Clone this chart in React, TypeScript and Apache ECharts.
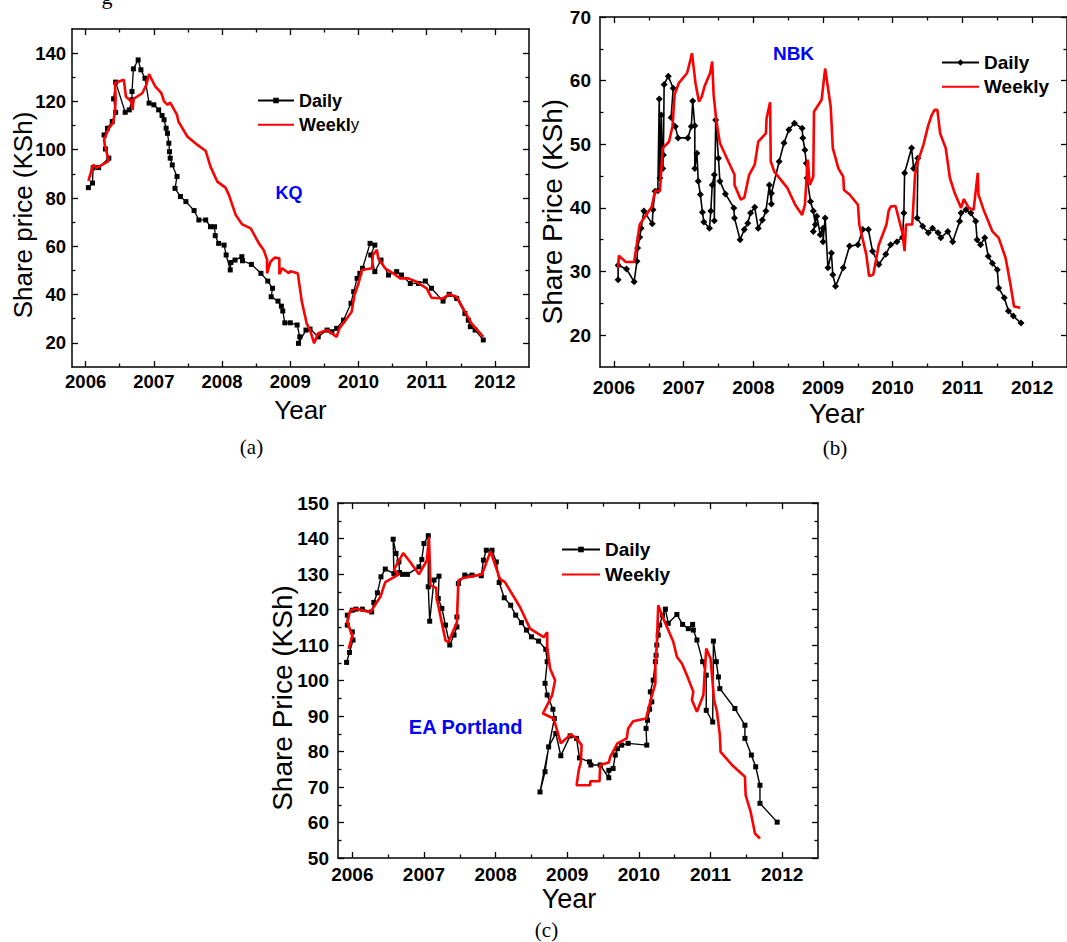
import React, { useEffect, useRef } from 'react';
import * as echarts from 'echarts';

const SANS = '"Liberation Sans", Arial, Helvetica, sans-serif';
const SERIF = '"Liberation Serif", "Times New Roman", serif';

// ---------- tick labels ----------
const yearTicks = [2006, 2007, 2008, 2009, 2010, 2011, 2012];
const yearMinorTicks = [2006.5, 2007.5, 2008.5, 2009.5, 2010.5, 2011.5];
const yTicksA = [20, 40, 60, 80, 100, 120, 140];
const yMinorA = [30, 50, 70, 90, 110, 130];
const yTicksB = [20, 30, 40, 50, 60, 70];
const yMinorB = [25, 35, 45, 55, 65];
const yTicksC = [50, 60, 70, 80, 90, 100, 110, 120, 130, 140, 150];
const yMinorC = [55, 65, 75, 85, 95, 105, 115, 125, 135, 145];

// ---------- (a) KQ ----------
const dailyA: number[][] = [
  [2006.04, 84.3], [2006.10, 86.2], [2006.11, 92.5], [2006.19, 92.6], [2006.34, 96.5], [2006.29, 100.3],
  [2006.27, 106.1], [2006.32, 108.9], [2006.39, 111.7], [2006.44, 115.5], [2006.41, 121.1], [2006.44, 128.0],
  [2006.58, 115.5], [2006.64, 116.5], [2006.68, 120.7], [2006.68, 124.1], [2006.70, 133.5], [2006.77, 137.2],
  [2006.81, 133.1], [2006.87, 129.6], [2006.93, 119.3], [2007.00, 118.6], [2007.07, 116.5], [2007.12, 114.2],
  [2007.15, 112.4], [2007.18, 108.9], [2007.20, 106.8], [2007.22, 102.7], [2007.23, 99.2], [2007.24, 96.5],
  [2007.27, 93.7], [2007.34, 88.9], [2007.31, 84.0], [2007.39, 80.6], [2007.47, 78.5], [2007.59, 74.8],
  [2007.66, 70.9], [2007.76, 70.9], [2007.83, 68.1], [2007.89, 68.1], [2007.90, 64.4], [2007.95, 61.2],
  [2008.03, 60.5], [2008.06, 56.4], [2008.12, 50.2], [2008.13, 53.3], [2008.19, 54.3], [2008.29, 55.7],
  [2008.30, 54.0], [2008.43, 52.5], [2008.57, 48.8], [2008.67, 45.6], [2008.74, 42.6], [2008.72, 39.1],
  [2008.82, 37.3], [2008.87, 35.2], [2008.89, 33.2], [2008.92, 28.3], [2009.00, 28.3], [2009.10, 27.4],
  [2009.14, 22.5], [2009.12, 19.8], [2009.23, 25.3], [2009.29, 25.7], [2009.41, 22.5], [2009.54, 25.3],
  [2009.61, 24.6], [2009.68, 26.0], [2009.78, 29.4], [2009.89, 36.4], [2009.93, 41.2], [2009.98, 46.7],
  [2010.02, 48.8], [2010.06, 50.9], [2010.17, 61.2], [2010.24, 60.5], [2010.18, 56.4], [2010.24, 49.5],
  [2010.33, 54.3], [2010.44, 48.1], [2010.56, 49.5], [2010.63, 48.1], [2010.76, 44.6], [2010.88, 44.6],
  [2010.98, 45.6], [2011.07, 42.6], [2011.24, 37.3], [2011.33, 40.1], [2011.44, 38.4], [2011.56, 32.2],
  [2011.61, 29.4], [2011.64, 26.7], [2011.71, 25.3], [2011.83, 21.2],
];
const weeklyA: number[][] = [
  [2006.04, 87.1], [2006.11, 93.7], [2006.17, 92.6], [2006.34, 95.4], [2006.28, 102.0], [2006.27, 104.1],
  [2006.34, 108.9], [2006.40, 111.0], [2006.43, 115.5], [2006.44, 121.3], [2006.43, 127.6], [2006.56, 129.0],
  [2006.59, 122.0], [2006.67, 120.0], [2006.69, 116.5], [2006.70, 121.0], [2006.83, 123.4], [2006.89, 126.9],
  [2006.93, 131.3], [2007.02, 126.2], [2007.11, 123.4], [2007.15, 120.0], [2007.20, 118.6], [2007.24, 119.5],
  [2007.34, 114.4], [2007.36, 111.7], [2007.49, 105.5], [2007.64, 102.0], [2007.76, 99.5], [2007.83, 93.0],
  [2007.93, 86.8], [2008.05, 84.3], [2008.10, 81.3], [2008.20, 73.0], [2008.29, 69.2], [2008.42, 67.4],
  [2008.54, 61.2], [2008.61, 58.5], [2008.66, 54.5], [2008.66, 48.8], [2008.71, 53.6], [2008.77, 55.3],
  [2008.84, 55.0], [2008.84, 48.4], [2008.88, 50.9], [2008.98, 48.8], [2009.00, 49.7], [2009.11, 48.8],
  [2009.17, 37.0], [2009.24, 28.1], [2009.29, 25.3], [2009.35, 19.8], [2009.41, 24.0], [2009.54, 25.3],
  [2009.68, 22.5], [2009.72, 26.0], [2009.81, 29.4], [2009.90, 32.9], [2009.94, 39.8], [2010.00, 44.6],
  [2010.05, 50.2], [2010.20, 50.9], [2010.21, 56.4], [2010.27, 58.5], [2010.29, 55.0], [2010.39, 50.9],
  [2010.51, 48.8], [2010.61, 46.7], [2010.73, 46.7], [2010.85, 45.3], [2011.00, 42.6], [2011.07, 38.7],
  [2011.24, 38.4], [2011.33, 40.1], [2011.44, 39.1], [2011.56, 32.9], [2011.66, 28.0], [2011.83, 22.5],
];

// ---------- (b) NBK ----------
const dailyB: number[][] = [
  [2006.06, 28.7], [2006.06, 31.0], [2006.18, 30.4], [2006.29, 28.4], [2006.33, 31.6], [2006.34, 33.7],
  [2006.37, 35.4], [2006.39, 36.8], [2006.43, 39.5], [2006.55, 37.5], [2006.56, 39.7], [2006.59, 42.6],
  [2006.63, 42.7], [2006.65, 57.1], [2006.66, 44.7], [2006.68, 54.6], [2006.70, 46.2], [2006.71, 48.3],
  [2006.72, 59.4], [2006.78, 60.7], [2006.85, 58.8], [2006.82, 54.2], [2006.88, 52.8], [2006.92, 51.0],
  [2007.06, 51.0], [2007.11, 52.8], [2007.13, 56.8], [2007.16, 52.9], [2007.16, 46.2], [2007.19, 48.6],
  [2007.21, 44.2], [2007.24, 42.1], [2007.27, 39.3], [2007.29, 37.8], [2007.37, 36.8], [2007.39, 39.5],
  [2007.41, 43.6], [2007.44, 45.2], [2007.44, 38.0], [2007.46, 53.8], [2007.50, 47.8], [2007.52, 44.2],
  [2007.60, 42.2], [2007.72, 40.0], [2007.73, 38.4], [2007.81, 35.0], [2007.87, 36.6], [2007.92, 37.6],
  [2007.96, 39.2], [2008.02, 40.1], [2008.07, 36.8], [2008.13, 38.1], [2008.18, 39.5], [2008.23, 43.6],
  [2008.26, 40.6], [2008.26, 42.3], [2008.37, 47.3], [2008.44, 50.2], [2008.51, 52.3], [2008.59, 53.3],
  [2008.70, 52.5], [2008.71, 51.0], [2008.74, 49.1], [2008.76, 47.0], [2008.77, 44.7], [2008.82, 41.0],
  [2008.86, 39.5], [2008.89, 37.4], [2008.86, 36.3], [2008.91, 38.7], [2008.96, 35.8], [2009.00, 36.8],
  [2009.00, 34.7], [2009.03, 38.4], [2009.07, 30.6], [2009.12, 32.9], [2009.14, 29.5], [2009.18, 27.7],
  [2009.29, 30.6], [2009.38, 34.0], [2009.50, 34.2], [2009.57, 36.6], [2009.65, 36.6], [2009.71, 33.2],
  [2009.80, 31.1], [2009.90, 32.7], [2009.97, 34.2], [2010.06, 34.7], [2010.14, 35.4], [2010.16, 39.2],
  [2010.17, 45.5], [2010.27, 49.4], [2010.30, 46.2], [2010.36, 47.8], [2010.35, 38.4], [2010.43, 37.1],
  [2010.51, 36.1], [2010.57, 36.8], [2010.65, 36.1], [2010.69, 35.3], [2010.79, 36.3], [2010.86, 34.7],
  [2010.96, 37.9], [2010.98, 39.2], [2011.05, 39.7], [2011.12, 39.2], [2011.19, 37.9], [2011.21, 35.0],
  [2011.26, 34.2], [2011.32, 35.3], [2011.37, 32.4], [2011.43, 31.3], [2011.50, 30.3], [2011.52, 27.4],
  [2011.60, 25.9], [2011.66, 23.8], [2011.73, 23.0], [2011.84, 21.9],
];
const weeklyB: number[][] = [
  [2006.06, 30.6], [2006.07, 32.5], [2006.17, 31.5], [2006.29, 31.5], [2006.37, 37.4], [2006.50, 39.5],
  [2006.54, 40.1], [2006.59, 42.6], [2006.66, 42.7], [2006.70, 49.4], [2006.79, 50.4], [2006.84, 52.8],
  [2006.87, 57.8], [2006.93, 59.6], [2007.05, 61.2], [2007.12, 64.3], [2007.17, 59.6], [2007.22, 56.7],
  [2007.26, 57.5], [2007.30, 59.1], [2007.38, 61.2], [2007.41, 63.0], [2007.43, 57.8], [2007.47, 53.6],
  [2007.52, 50.2], [2007.62, 47.8], [2007.73, 45.2], [2007.73, 43.6], [2007.82, 41.3], [2007.87, 41.6],
  [2007.94, 45.2], [2008.02, 46.8], [2008.07, 50.4], [2008.18, 51.7], [2008.19, 54.1], [2008.24, 56.6],
  [2008.25, 47.3], [2008.30, 45.7], [2008.49, 43.1], [2008.60, 40.5], [2008.70, 38.9], [2008.74, 40.5],
  [2008.78, 47.6], [2008.81, 43.6], [2008.86, 44.9], [2008.87, 55.1], [2008.98, 57.0], [2009.03, 61.9],
  [2009.11, 55.9], [2009.14, 49.4], [2009.22, 46.2], [2009.29, 44.9], [2009.30, 42.8], [2009.38, 42.1],
  [2009.50, 40.5], [2009.52, 37.4], [2009.62, 32.7], [2009.66, 29.3], [2009.72, 29.5], [2009.80, 34.2],
  [2009.91, 37.4], [2009.94, 39.5], [2009.97, 40.2], [2010.04, 40.3], [2010.14, 36.0], [2010.17, 33.2],
  [2010.19, 37.4], [2010.28, 37.4], [2010.32, 45.2], [2010.36, 47.3], [2010.44, 49.9], [2010.51, 53.0],
  [2010.56, 54.6], [2010.60, 55.4], [2010.64, 55.4], [2010.68, 51.7], [2010.76, 49.4], [2010.82, 44.7],
  [2010.89, 42.3], [2010.98, 40.0], [2011.02, 41.4], [2011.09, 40.0], [2011.16, 39.7], [2011.22, 45.5],
  [2011.23, 42.1], [2011.31, 39.5], [2011.43, 36.3], [2011.52, 35.3], [2011.62, 32.1], [2011.69, 27.9],
  [2011.74, 24.5], [2011.83, 24.3],
];

// ---------- (c) EA Portland ----------
const dailyC: number[][] = [
  [2005.92, 105.1], [2005.96, 107.9], [2006.01, 111.4], [2006.00, 113.7], [2005.93, 115.6], [2005.93, 118.4],
  [2006.00, 119.8], [2006.05, 120.1], [2006.14, 120.1], [2006.27, 119.3], [2006.30, 122.0], [2006.35, 124.7],
  [2006.40, 129.2], [2006.46, 131.4], [2006.58, 130.1], [2006.57, 139.8], [2006.61, 135.8], [2006.65, 133.4],
  [2006.66, 130.4], [2006.70, 129.9], [2006.77, 129.9], [2006.93, 132.0], [2006.97, 134.1], [2007.00, 138.6],
  [2007.06, 140.8], [2007.06, 126.4], [2007.08, 116.7], [2007.14, 128.3], [2007.21, 129.4], [2007.20, 123.1],
  [2007.25, 120.3], [2007.30, 115.6], [2007.36, 110.0], [2007.42, 112.8], [2007.46, 115.1], [2007.46, 117.9],
  [2007.48, 127.3], [2007.57, 129.7], [2007.67, 129.7], [2007.80, 129.5], [2007.83, 133.9], [2007.87, 136.7],
  [2007.95, 136.7], [2008.01, 133.4], [2008.05, 127.6], [2008.12, 123.3], [2008.21, 121.2], [2008.28, 118.4],
  [2008.36, 116.3], [2008.43, 114.2], [2008.50, 112.3], [2008.60, 111.1], [2008.70, 108.8], [2008.72, 105.3],
  [2008.69, 99.2], [2008.72, 95.9], [2008.80, 91.9], [2008.82, 89.3], [2008.62, 68.6], [2008.69, 74.3],
  [2008.74, 81.3], [2008.84, 85.1], [2008.91, 78.8], [2009.04, 84.4], [2009.13, 83.7], [2009.17, 78.2],
  [2009.31, 77.1], [2009.33, 76.2], [2009.46, 76.2], [2009.58, 72.6], [2009.58, 74.7], [2009.64, 75.2],
  [2009.67, 79.0], [2009.70, 80.8], [2009.76, 81.8], [2009.85, 82.3], [2010.11, 81.8], [2010.10, 86.5],
  [2010.12, 88.8], [2010.15, 91.9], [2010.18, 94.0], [2010.16, 96.8], [2010.20, 100.1], [2010.23, 105.3],
  [2010.24, 107.1], [2010.25, 110.0], [2010.27, 112.8], [2010.29, 115.6], [2010.33, 118.4], [2010.37, 120.1],
  [2010.41, 116.1], [2010.53, 118.6], [2010.61, 115.8], [2010.69, 114.6], [2010.75, 115.8], [2010.76, 114.2],
  [2010.81, 111.4], [2010.89, 105.3], [2010.94, 101.5], [2010.94, 91.6], [2011.03, 88.3], [2011.04, 111.1],
  [2011.08, 105.3], [2011.11, 101.0], [2011.13, 97.7], [2011.34, 92.1], [2011.48, 87.4], [2011.48, 83.7],
  [2011.57, 79.0], [2011.63, 75.7], [2011.69, 70.5], [2011.69, 65.4], [2011.93, 60.1],
];
const weeklyC: number[][] = [
  [2005.95, 108.9], [2006.00, 112.7], [2005.93, 116.4], [2005.97, 119.7], [2006.04, 120.2], [2006.25, 119.2],
  [2006.39, 123.5], [2006.46, 127.7], [2006.65, 129.9], [2006.58, 131.2], [2006.71, 135.9], [2006.81, 133.3],
  [2006.93, 129.9], [2007.04, 133.8], [2007.07, 140.4], [2007.09, 126.8], [2007.17, 126.1], [2007.18, 123.0],
  [2007.30, 111.3], [2007.34, 110.8], [2007.46, 116.4], [2007.48, 128.2], [2007.55, 128.9], [2007.81, 129.9],
  [2007.93, 136.4], [2008.06, 128.6], [2008.13, 127.7], [2008.34, 120.7], [2008.48, 114.6], [2008.67, 112.2],
  [2008.72, 113.6], [2008.72, 109.4], [2008.76, 103.4], [2008.83, 100.1], [2008.79, 95.9], [2008.66, 90.7],
  [2008.81, 89.3], [2008.85, 86.5], [2008.91, 82.3], [2009.05, 84.8], [2009.13, 83.7], [2009.20, 81.8],
  [2009.19, 77.1], [2009.16, 74.7], [2009.13, 70.5], [2009.32, 70.5], [2009.32, 71.6], [2009.45, 71.6],
  [2009.46, 76.2], [2009.58, 76.9], [2009.60, 78.5], [2009.70, 82.3], [2009.83, 83.7], [2009.85, 86.5],
  [2009.92, 88.5], [2010.10, 89.3], [2010.17, 94.9], [2010.23, 99.2], [2010.23, 104.3], [2010.25, 110.0],
  [2010.26, 115.6], [2010.27, 121.2], [2010.34, 117.5], [2010.41, 114.2], [2010.48, 110.9], [2010.53, 106.7],
  [2010.60, 104.8], [2010.67, 101.5], [2010.76, 96.8], [2010.74, 94.5], [2010.81, 91.2], [2010.90, 95.9],
  [2010.94, 109.0], [2011.00, 106.2], [2011.05, 94.5], [2011.09, 91.2], [2011.13, 84.6], [2011.14, 79.9],
  [2011.30, 76.2], [2011.48, 72.9], [2011.49, 67.7], [2011.56, 63.0], [2011.62, 56.9], [2011.69, 55.5],
];

type Panel = {
  key: string;
  grid: { left: number; top: number; width: number; height: number };
  yMin: number; yMax: number;
  yTicks: number[]; yMinor: number[];
  labelSize: number; xMargin: number; yMargin: number;
  daily: number[][]; weekly: number[][];
  dailySymbol: string; dailySymbolSize: number; dailyWidth: number;
  legend: { left: number; top: number; itemWidth: number; itemHeight: number; gap: number; size: number };
};

const panels: Panel[] = [
  {
    key: 'a', grid: { left: 72, top: 29, width: 457, height: 338 },
    yMin: 10, yMax: 150, yTicks: yTicksA, yMinor: yMinorA,
    labelSize: 18.5, xMargin: 5, yMargin: 6,
    daily: dailyA, weekly: weeklyA, dailySymbol: 'rect', dailySymbolSize: 5, dailyWidth: 1.3,
    legend: { left: 257, top: 91.5, itemWidth: 36, itemHeight: 7, gap: 6.3, size: 18 },
  },
  {
    key: 'b', grid: { left: 600, top: 17, width: 473, height: 350 },
    yMin: 15, yMax: 70, yTicks: yTicksB, yMinor: yMinorB,
    labelSize: 19, xMargin: 11, yMargin: 9,
    daily: dailyB, weekly: weeklyB, dailySymbol: 'diamond', dailySymbolSize: 7, dailyWidth: 1.6,
    legend: { left: 941, top: 53, itemWidth: 37, itemHeight: 8, gap: 5.3, size: 19 },
  },
  {
    key: 'c', grid: { left: 338, top: 503, width: 480, height: 355 },
    yMin: 50, yMax: 150, yTicks: yTicksC, yMinor: yMinorC,
    labelSize: 19, xMargin: 7, yMargin: 9,
    daily: dailyC, weekly: weeklyC, dailySymbol: 'rect', dailySymbolSize: 5, dailyWidth: 1.4,
    legend: { left: 561, top: 540, itemWidth: 38, itemHeight: 7, gap: 6, size: 19 },
  },
];

const tickStyle = { color: '#000', width: 1.3 };
const lineStyle = { color: '#000', width: 1.5 };

function makeAxes(p: Panel, g: number) {
  const label = (values: number[], margin: number) => ({
    show: true, customValues: values, margin,
    formatter: (v: number) => String(v),
    fontFamily: SANS, fontWeight: 'bold', fontSize: p.labelSize, color: '#000',
  });
  const xBase = { type: 'value', gridIndex: g, min: 2005.8, max: 2012.5, splitLine: { show: false } };
  const yBase = { type: 'value', gridIndex: g, min: p.yMin, max: p.yMax, splitLine: { show: false } };
  const xs = [
    { ...xBase, position: 'bottom', axisLine: { show: true, onZero: false, lineStyle },
      axisTick: { show: true, inside: true, length: 6, customValues: yearTicks, lineStyle: tickStyle },
      axisLabel: label(yearTicks, p.xMargin) },
    { ...xBase, position: 'top', axisLine: { show: true, onZero: false, lineStyle },
      axisTick: { show: true, inside: true, length: 6, customValues: yearTicks, lineStyle: tickStyle },
      axisLabel: { show: false } },
    { ...xBase, position: 'bottom', axisLine: { show: false, onZero: false },
      axisTick: { show: true, inside: true, length: 3.5, customValues: yearMinorTicks, lineStyle: tickStyle },
      axisLabel: { show: false } },
    { ...xBase, position: 'top', axisLine: { show: false, onZero: false },
      axisTick: { show: true, inside: true, length: 3.5, customValues: yearMinorTicks, lineStyle: tickStyle },
      axisLabel: { show: false } },
  ];
  const ys = [
    { ...yBase, position: 'left', axisLine: { show: true, onZero: false, lineStyle },
      axisTick: { show: true, inside: true, length: 6, customValues: p.yTicks, lineStyle: tickStyle },
      axisLabel: label(p.yTicks, p.yMargin) },
    { ...yBase, position: 'right', axisLine: { show: true, onZero: false, lineStyle },
      axisTick: { show: true, inside: true, length: 6, customValues: p.yTicks, lineStyle: tickStyle },
      axisLabel: { show: false } },
    { ...yBase, position: 'left', axisLine: { show: false, onZero: false },
      axisTick: { show: true, inside: true, length: 3.5, customValues: p.yMinor, lineStyle: tickStyle },
      axisLabel: { show: false } },
    { ...yBase, position: 'right', axisLine: { show: false, onZero: false },
      axisTick: { show: true, inside: true, length: 3.5, customValues: p.yMinor, lineStyle: tickStyle },
      axisLabel: { show: false } },
  ];
  return { xs, ys };
}

function text(x: number, y: number, t: string, font: string, fill = '#000', rotation = 0) {
  return {
    type: 'text', x, y, rotation, silent: true,
    style: { text: t, font, fill, textAlign: 'center', textVerticalAlign: 'middle' },
  };
}

function buildOption() {
  const grids: any[] = [];
  const xAxis: any[] = [];
  const yAxis: any[] = [];
  const series: any[] = [];
  const legends: any[] = [];
  panels.forEach((p, g) => {
    grids.push({ ...p.grid, containLabel: false });
    const { xs, ys } = makeAxes(p, g);
    xAxis.push(...xs);
    yAxis.push(...ys);
    const dName = 'Daily-' + p.key;
    const wName = 'Weekly-' + p.key;
    series.push({
      type: 'line', name: dName, xAxisIndex: g * 4, yAxisIndex: g * 4, data: p.daily,
      symbol: p.dailySymbol, symbolSize: p.dailySymbolSize, showSymbol: true,
      lineStyle: { color: '#000', width: p.dailyWidth }, itemStyle: { color: '#000' }, z: 2, silent: true,
    });
    series.push({
      type: 'line', name: wName, xAxisIndex: g * 4, yAxisIndex: g * 4, data: p.weekly,
      symbol: 'none', lineStyle: { color: '#ff0000', width: 2.6 }, itemStyle: { color: '#ff0000' }, z: 3, silent: true,
    });
    const L = p.legend;
    legends.push({
      data: [dName, { name: wName, itemStyle: { opacity: 0 } }],
      orient: 'vertical', left: L.left, top: L.top, padding: 0,
      itemWidth: L.itemWidth, itemHeight: L.itemHeight, itemGap: L.gap, selectedMode: false,
      formatter: (name: string) => {
        if (name.startsWith('Daily')) return '{b|Daily}';
        return p.key === 'a' ? '{b|Weekl}{n|y}' : '{b|Weekly}';
      },
      textStyle: {
        fontFamily: SANS, fontWeight: 'bold', fontSize: L.size, color: '#000',
        rich: {
          b: { fontFamily: SANS, fontWeight: 'bold', fontSize: L.size, color: '#000' },
          n: { fontFamily: SANS, fontWeight: 'normal', fontSize: L.size - 1, color: '#000' },
        },
      },
    });
  });

  const graphic = [
    text(107, -4, 'g', `22px ${SERIF}`),
    // (a)
    text(22.5, 215, 'Share price (KSh)', `26px ${SANS}`, '#000', Math.PI / 2),
    text(300.5, 410, 'Year', `26px ${SANS}`),
    text(251.5, 447, '(a)', `21px ${SERIF}`),
    text(289, 193, 'KQ', `bold 18px ${SANS}`, '#0000ff'),
    // (b)
    text(552.3, 211.7, 'Share Price (KSh)', `28px ${SANS}`, '#000', Math.PI / 2),
    text(836.6, 413.3, 'Year', `27.5px ${SANS}`),
    text(835, 448.3, '(b)', `21px ${SERIF}`),
    text(793.5, 53.5, 'NBK', `bold 19px ${SANS}`, '#0000ff'),
    // (c)
    text(282.4, 698, 'Share Price (KSh)', `28px ${SANS}`, '#000', Math.PI / 2),
    text(569, 898.5, 'Year', `27px ${SANS}`),
    text(546.5, 930, '(c)', `21px ${SERIF}`),
    text(465.7, 727, 'EA Portland', `bold 20px ${SANS}`, '#0000ff'),
  ];

  return {
    animation: false,
    backgroundColor: '#ffffff',
    grid: grids,
    xAxis,
    yAxis,
    series,
    legend: legends,
    graphic,
  };
}

export default function App() {
  const ref = useRef<HTMLDivElement>(null);
  useEffect(() => {
    if (!ref.current) return;
    const chart = echarts.init(ref.current, undefined, { renderer: 'svg' });
    chart.setOption(buildOption() as any);
    return () => chart.dispose();
  }, []);
  return (
    <div
      ref={ref}
      style={{ position: 'fixed', left: 0, top: 0, width: 1067, height: 942, background: '#fff' }}
    />
  );
}
